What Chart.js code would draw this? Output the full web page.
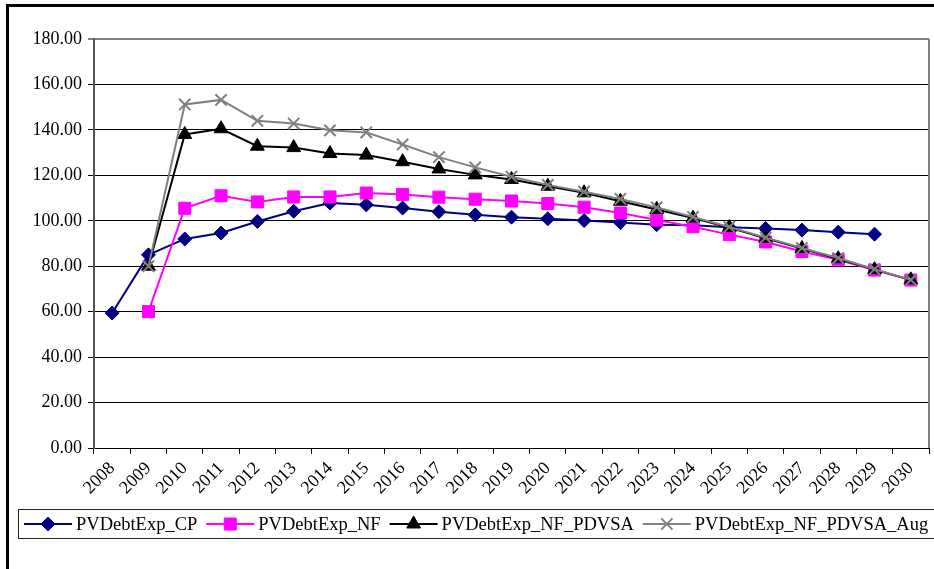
<!DOCTYPE html>
<html>
<head>
<meta charset="utf-8">
<script src="https://cdn.jsdelivr.net/npm/chart.js@4/dist/chart.umd.min.js"></script>
<style>
  html, body { margin: 0; padding: 0; background: #fff; overflow: hidden; }
  #wrap { position: absolute; left: 0; top: 0; width: 1000px; height: 569px; }
</style>
</head>
<body>
<div id="wrap"><canvas id="chart" width="1000" height="569"></canvas></div>
<script>
// values
const years = ['2008','2009','2010','2011','2012','2013','2014','2015','2016','2017','2018','2019',
  '2020','2021','2022','2023','2024','2025','2026','2027','2028','2029','2030'];
const cpValues = [59.4, 85.0, 92.0, 94.6, 99.7, 104.2, 107.8, 107.0, 105.6, 104.0, 102.6, 101.6,
  100.9, 100.1, 99.2, 98.3, 98.0, 97.1, 96.6, 95.9, 95.0, 94.1, null];
const nfValues = [null, 60.0, 105.5, 111.0, 108.3, 110.5, 110.5, 112.2, 111.6, 110.4, 109.5, 108.7,
  107.6, 106.0, 103.4, 100.3, 97.4, 93.9, 90.7, 86.5, 82.8, 78.3, 73.9];
const pdvsaValues = [null, 80.0, 138.0, 140.5, 132.8, 132.2, 129.6, 128.9, 126.0, 122.8, 120.2, 118.2,
  115.2, 112.3, 108.6, 105.0, 101.2, 97.0, 92.3, 87.8, 83.3, 78.5, 74.0];
const augValues = [null, 80.0, 151.2, 153.2, 144.0, 142.8, 139.8, 138.9, 133.6, 128.0, 123.5, 119.4,
  115.8, 112.8, 109.6, 105.9, 101.7, 97.3, 92.6, 88.0, 83.6, 78.7, 74.0];
const seriesNames = ['PVDebtExp_CP', 'PVDebtExp_NF', 'PVDebtExp_NF_PDVSA', 'PVDebtExp_NF_PDVSA_Aug'];
const yTicks = {min: 0, max: 180, step: 20};

const FONT = "'Liberation Serif', 'Times New Roman', serif";

function series(label, data, color, style, radius, order) {
  return {
    label, data, order,
    borderColor: color, backgroundColor: color,
    borderWidth: 2,
    pointStyle: style, pointRadius: radius, pointHoverRadius: radius,
    pointBorderColor: color, pointBackgroundColor: color,
    pointBorderWidth: style === 'crossRot' ? 2 : 1,
    tension: 0, spanGaps: false
  };
}

// box round the whole chart, plot border, and an Excel-like legend
const frame = {
  id: 'frame',
  beforeDraw(chart) {
    const ctx = chart.ctx;
    ctx.save();
    ctx.fillStyle = '#fff';
    ctx.fillRect(0, 0, chart.width, chart.height);
    ctx.restore();
  },
  afterDraw(chart) {
    const ctx = chart.ctx, a = chart.chartArea;
    ctx.save();
    // outer chart border
    ctx.strokeStyle = '#000';
    ctx.lineWidth = 3;
    ctx.strokeRect(7.5, 5.5, 2000, 2000);
    // right side of plot area
    ctx.strokeStyle = '#808080';
    ctx.lineWidth = 2;
    ctx.beginPath();
    ctx.moveTo(a.right, a.top);
    ctx.lineTo(a.right, a.bottom);
    ctx.stroke();
    // legend box
    ctx.strokeStyle = '#222';
    ctx.lineWidth = 1;
    ctx.strokeRect(18.5, 509.5, 1200, 29);
    ctx.font = '18.5px ' + FONT;
    ctx.textBaseline = 'middle';
    ctx.textAlign = 'left';
    let x = 24;
    const y = 524;
    chart.data.datasets.forEach(ds => {
      ctx.strokeStyle = ds.borderColor;
      ctx.fillStyle = ds.borderColor;
      ctx.lineWidth = 2;
      ctx.beginPath();
      ctx.moveTo(x, y);
      ctx.lineTo(x + 48, y);
      ctx.stroke();
      ctx.lineWidth = ds.pointBorderWidth;
      Chart.helpers.drawPoint(ctx, {pointStyle: ds.pointStyle, radius: ds.pointRadius, rotation: 0,
        borderWidth: ds.pointBorderWidth}, x + 24, y);
      ctx.fillStyle = '#000';
      ctx.fillText(ds.label, x + 52, y + 1);
      x += 52 + ctx.measureText(ds.label).width + 9;
    });
    ctx.restore();
  }
};

const ctx = document.getElementById('chart').getContext('2d');
new Chart(ctx, {
  type: 'line',
  data: {
    labels: years,
    datasets: [
      series(seriesNames[0], cpValues, '#000080', 'rectRot', 7, 4),
      series(seriesNames[1], nfValues, '#ff00ff', 'rect', 8.5, 3),
      series(seriesNames[2], pdvsaValues, '#000000', 'triangle', 8, 2),
      series(seriesNames[3], augValues, '#808080', 'crossRot', 8, 1)
    ]
  },
  options: {
    responsive: false,
    devicePixelRatio: 1,
    animation: false,
    layout: {padding: {left: 0, top: 39, right: 71, bottom: 61}},
    plugins: {legend: {display: false}, tooltip: {enabled: false}},
    scales: {
      x: {
        offset: true,
        afterFit: s => { s.height = 60; },
        grid: {offset: true, drawOnChartArea: false, drawTicks: true, tickLength: 6, color: '#000'},
        border: {color: '#000', width: 1},
        ticks: {color: '#000', font: {family: FONT, size: 18}, minRotation: 45, maxRotation: 45,
          autoSkip: false, padding: 4}
      },
      y: {
        min: yTicks.min, max: yTicks.max,
        afterFit: s => { s.width = 94; },
        grid: {color: c => c.tick && c.tick.value === yTicks.max ? '#808080' : '#000',
          lineWidth: c => c.tick && c.tick.value === yTicks.max ? 2 : 1, tickLength: 6},
        border: {color: '#555', width: 2},
        ticks: {stepSize: yTicks.step, color: '#000', font: {family: FONT, size: 18}, padding: 6,
          callback: v => Number(v).toFixed(2)}
      }
    }
  },
  plugins: [frame]
});
</script>
</body>
</html>
